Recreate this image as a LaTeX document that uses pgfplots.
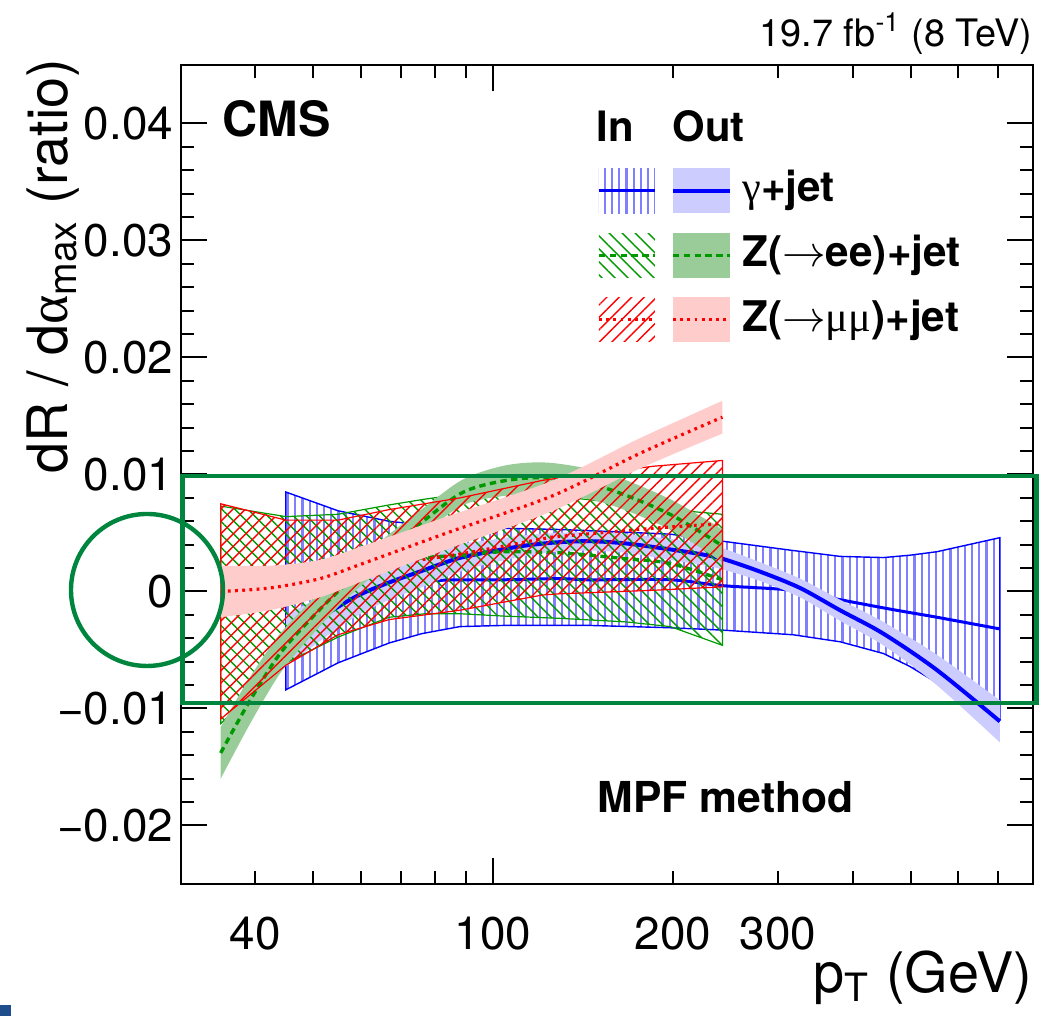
\documentclass[border=0pt]{standalone}
\usepackage{fontspec}
\setmainfont{TeX Gyre Heros}
\newfontfamily\symf{Liberation Serif}
\usepackage{pgfplots}
\pgfplotsset{compat=1.18}
\usepackage{pgfplotstable}
\usepgfplotslibrary{fillbetween}
\usetikzlibrary{patterns.meta}

\definecolor{bandblue}{RGB}{204,204,255}
\definecolor{hatchblue}{RGB}{128,128,255}
\definecolor{rgreen}{RGB}{0,153,0}
\definecolor{bandgreen}{RGB}{153,204,153}
\definecolor{bandpink}{RGB}{255,204,204}
\definecolor{annot}{RGB}{0,133,62}
\definecolor{cornerblue}{RGB}{31,78,140}

% gamma+jet, In
\pgfplotstableread{
x c lo hi
45 0.0000 -0.0084 0.0085
55 0.0004 -0.0061 0.0069
67 0.0008 -0.0044 0.0060
76 0.0009 -0.0036 0.0057
88 0.0010 -0.0030 0.0055
104 0.0010 -0.0029 0.0054
129 0.0011 -0.0029 0.0053
145 0.0010 -0.0029 0.0052
198 0.0010 -0.0031 0.0049
242 0.0005 -0.0033 0.0043
318 0.0001 -0.0037 0.0035
381 -0.0007 -0.0043 0.0030
450 -0.0014 -0.0053 0.0029
498 -0.0018 -0.0064 0.0031
553 -0.0022 -0.0078 0.0034
705 -0.0032 -0.0109 0.0046
}\gin
% gamma+jet, Out
\pgfplotstableread{
x c lo hi
45 -0.0042 -0.0064 -0.0020
49 -0.0030 -0.0050 -0.0010
52.7 -0.0019 -0.0038 0.0000
59.1 -0.0004 -0.0021 0.0013
66.4 0.0007 -0.0008 0.0022
75.4 0.0017 0.0003 0.0031
86.9 0.0028 0.0016 0.0040
98.8 0.0034 0.0024 0.0044
112.3 0.0039 0.0030 0.0048
127.8 0.0042 0.0034 0.0050
145.3 0.0043 0.0035 0.0051
167.4 0.0041 0.0033 0.0049
197.7 0.0036 0.0027 0.0045
222 0.0032 0.0023 0.0041
241.9 0.0028 0.0019 0.0037
279.7 0.0017 0.0009 0.0025
326.4 0.0003 -0.0005 0.0011
380.7 -0.0016 -0.0025 -0.0007
449.8 -0.0036 -0.0046 -0.0026
552.6 -0.0067 -0.0080 -0.0054
705 -0.0111 -0.0129 -0.0093
}\gout
% Z(ee)+jet, In
\pgfplotstableread{
x c lo hi
35 -0.0020 -0.0113 0.0073
45 0.0002 -0.0061 0.0064
55 0.0013 -0.0039 0.0066
67 0.0025 -0.0022 0.0074
77 0.0029 -0.0019 0.0079
88 0.0031 -0.0019 0.0083
104 0.0034 -0.0021 0.0085
130 0.0033 -0.0023 0.0081
167 0.0028 -0.0026 0.0075
198 0.0024 -0.0030 0.0070
242 0.0010 -0.0046 0.0066
}\eein
% Z(ee)+jet, Out
\pgfplotstableread{
x c lo hi
35 -0.0138 -0.0160 -0.0116
39.2 -0.0093 -0.0113 -0.0073
44 -0.0053 -0.0070 -0.0036
49.4 -0.0024 -0.0039 -0.0009
56.1 0.0004 -0.0009 0.0017
65.5 0.0033 0.0021 0.0045
76.3 0.0060 0.0049 0.0071
89.2 0.0085 0.0074 0.0096
105.4 0.0095 0.0082 0.0108
124.5 0.0097 0.0084 0.0110
154.9 0.0088 0.0075 0.0101
197.7 0.0066 0.0053 0.0079
242 0.0039 0.0025 0.0053
}\eeout
% Z(mumu)+jet, In
\pgfplotstableread{
x c lo hi
35 -0.0017 -0.0109 0.0075
45 -0.0001 -0.0063 0.0061
55 0.0012 -0.0037 0.0061
67 0.0023 -0.0024 0.0070
88 0.0032 -0.0016 0.0080
121 0.0045 -0.0003 0.0095
129 0.0047 -0.0002 0.0097
185 0.0054 0.0001 0.0107
242 0.0058 0.0004 0.0112
}\mmin
% Z(mumu)+jet, Out
\pgfplotstableread{
x c lo hi
35 0.0000 -0.0022 0.0022
42.3 0.0003 -0.0016 0.0022
51.3 0.0011 -0.0005 0.0027
60.6 0.0024 0.0009 0.0039
84.7 0.0051 0.0037 0.0065
126 0.0082 0.0069 0.0095
176 0.0118 0.0105 0.0131
242 0.0149 0.0135 0.0163
}\mmout

\begin{document}
\begin{tikzpicture}
\begin{axis}[
  at={(0,0)}, anchor=south west,
  scale only axis, width=213bp, height=204.75bp,
  xmode=log, xmin=30, xmax=800,
  ymin=-0.025, ymax=0.045,
  fill between/on layer=main,
  axis line style={line width=0.6bp},
  tick style={line width=0.5bp, black},
  major tick length=6.5bp, minor tick length=3.3bp,
  xtick={100}, xticklabels={100},
  extra x ticks={40,200,300}, extra x tick labels={40,200,300},
  extra x tick style={major tick length=3.3bp},
  minor xtick={50,60,70,80,90,400,500,600,700},
  ytick={-0.02,-0.01,0,0.01,0.02,0.03,0.04},
  yticklabels={−0.02,−0.01,0,0.01,0.02,0.03,0.04},
  scaled y ticks=false,
  minor y tick num=4,
  tick label style={font=\fontsize{11.5}{13}\selectfont},
  xticklabel style={yshift=-4.7bp},
  yticklabel style={xshift=1.6bp},
  xlabel={p\textsubscript{T} (GeV)},
  xlabel style={at={(axis description cs:1,-0.133)}, anchor=base east, inner sep=0pt, font=\fontsize{14}{16}\selectfont},
  ylabel={dR / d{\symf α}\textsubscript{max} (ratio)},
  ylabel style={at={(axis description cs:-0.1323,1.0085)}, anchor=base east, inner sep=0pt, font=\fontsize{14}{16}\selectfont},
]
% ---- gamma+jet In: hatch + line
\addplot[name path=ginlo, draw=none] table[x=x,y=lo]{\gin};
\addplot[name path=ginhi, draw=none] table[x=x,y=hi]{\gin};
\addplot[draw=blue, line width=0.35bp, pattern={Lines[angle=90,distance=1.8bp,line width=0.55bp]}, pattern color=hatchblue] fill between[of=ginlo and ginhi];
\addplot[blue, line width=0.75bp, smooth] table[x=x,y=c]{\gin};
% ---- gamma+jet Out: band + line
\addplot[name path=goutlo, draw=none, smooth] table[x=x,y=lo]{\gout};
\addplot[name path=gouthi, draw=none, smooth] table[x=x,y=hi]{\gout};
\addplot[fill=bandblue, draw=none] fill between[of=goutlo and gouthi];
\addplot[blue, line width=1bp, smooth] table[x=x,y=c]{\gout};
% ---- Z(ee) In: hatch + line
\addplot[name path=eeinlo, draw=none] table[x=x,y=lo]{\eein};
\addplot[name path=eeinhi, draw=none] table[x=x,y=hi]{\eein};
\addplot[draw=rgreen, line width=0.3bp, pattern={Lines[angle=-45,distance=2.3bp,line width=0.35bp]}, pattern color=rgreen] fill between[of=eeinlo and eeinhi];
\addplot[rgreen, line width=0.85bp, dash pattern=on 1.6bp off 1.1bp, smooth] table[x=x,y=c]{\eein};
% ---- Z(ee) Out: band + line
\addplot[name path=eeoutlo, draw=none, smooth] table[x=x,y=lo]{\eeout};
\addplot[name path=eeouthi, draw=none, smooth] table[x=x,y=hi]{\eeout};
\addplot[fill=bandgreen, draw=none] fill between[of=eeoutlo and eeouthi];
\addplot[rgreen, line width=0.85bp, dash pattern=on 1.6bp off 1.1bp, smooth] table[x=x,y=c]{\eeout};
% ---- Z(mumu) In: hatch + line
\addplot[name path=mminlo, draw=none] table[x=x,y=lo]{\mmin};
\addplot[name path=mminhi, draw=none] table[x=x,y=hi]{\mmin};
\addplot[draw=red, line width=0.3bp, pattern={Lines[angle=45,distance=2.2bp,line width=0.35bp]}, pattern color=red] fill between[of=mminlo and mminhi];
\addplot[red, line width=0.8bp, dash pattern=on 0.7bp off 1.1bp, smooth] table[x=x,y=c]{\mmin};
% ---- Z(mumu) Out: band + line
\addplot[name path=mmoutlo, draw=none, smooth] table[x=x,y=lo]{\mmout};
\addplot[name path=mmouthi, draw=none, smooth] table[x=x,y=hi]{\mmout};
\addplot[fill=bandpink, draw=none] fill between[of=mmoutlo and mmouthi];
\addplot[red, line width=0.8bp, dash pattern=on 0.7bp off 1.1bp, smooth] table[x=x,y=c]{\mmout};
\end{axis}
\begin{scope}[x=0.25bp,y=-0.25bp,shift={(-45.175bp,221bp)}]
% texts
\node[anchor=base east, inner sep=0pt, font=\fontsize{9.5}{11}\selectfont] at (1033,47) {19.7 fb\textsuperscript{-1} (8 TeV)};
\node[anchor=base west, inner sep=0pt, font=\fontsize{12.2}{14}\selectfont\bfseries] at (222,137) {CMS};
\node[anchor=base west, inner sep=0pt, font=\fontsize{10.5}{12}\selectfont\bfseries] at (596,141.7) {In};
\node[anchor=base west, inner sep=0pt, font=\fontsize{10.5}{12}\selectfont\bfseries] at (672,141.7) {Out};
\node[anchor=base west, inner sep=0pt, font=\fontsize{10.6}{12}\selectfont\bfseries] at (741.7,202) {{\symf\mdseries γ}+jet};
\node[anchor=base west, inner sep=0pt, font=\fontsize{10.6}{12}\selectfont\bfseries] at (741.7,266.7) {Z($\rightarrow$ee)+jet};
\node[anchor=base west, inner sep=0pt, font=\fontsize{10.6}{12}\selectfont\bfseries] at (741.7,331.7) {Z($\rightarrow${\symf\mdseries μμ})+jet};
\node[anchor=base west, inner sep=0pt, font=\fontsize{10.7}{12}\selectfont\bfseries] at (597,813) {MPF method};
% legend swatches
\fill[pattern={Lines[angle=90,distance=1.8bp,line width=0.55bp]}, pattern color=hatchblue] (599,168.3) rectangle (655,213.3);
\draw[blue, line width=0.75bp] (599,190.7) -- (655,190.7);
\fill[bandblue] (673,168.3) rectangle (730,213.3);
\draw[blue, line width=1bp] (673,190.7) -- (730,190.7);
\fill[pattern={Lines[angle=-45,distance=2.3bp,line width=0.35bp]}, pattern color=rgreen] (599,233.3) rectangle (655,277.7);
\draw[rgreen, line width=0.85bp, dash pattern=on 1.6bp off 1.1bp] (599,255.5) -- (655,255.5);
\fill[bandgreen] (673,233.3) rectangle (730,277.7);
\draw[rgreen, line width=0.85bp, dash pattern=on 1.6bp off 1.1bp] (673,255.5) -- (730,255.5);
\fill[pattern={Lines[angle=45,distance=2.2bp,line width=0.35bp]}, pattern color=red] (599,297.3) rectangle (655,341.7);
\draw[red, line width=0.8bp, dash pattern=on 0.7bp off 1.1bp] (599,319.5) -- (655,319.5);
\fill[bandpink] (673,297.3) rectangle (730,341.7);
\draw[red, line width=0.8bp, dash pattern=on 0.7bp off 1.1bp] (673,319.5) -- (730,319.5);
% annotations
\draw[annot, line width=1.1bp] (182.5,476) rectangle (1036.7,703.3);
\draw[annot, line width=1.1bp] (147,590) circle [radius=19bp];
\fill[cornerblue] (0,1005) rectangle (11,1016);
\end{scope}
\pgfresetboundingbox
\path[use as bounding box] (-45.175bp,-33bp) rectangle (214.575bp,221bp);
\end{tikzpicture}
\end{document}
